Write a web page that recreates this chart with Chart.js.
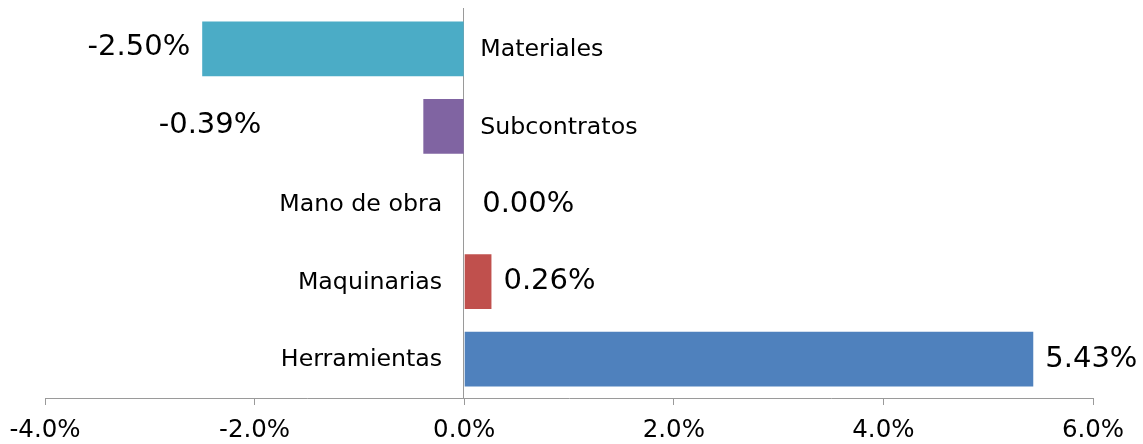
<!DOCTYPE html>
<html>
<head>
<meta charset="utf-8">
<script src="https://cdn.jsdelivr.net/npm/chart.js@4.4.1/dist/chart.umd.min.js"></script>
<style>
  html, body { margin: 0; padding: 0; background: #ffffff; }
  #wrap { width: 1143px; height: 444px; position: relative; }
</style>
</head>
<body>
<div id="wrap"><canvas id="c" width="1143" height="444"></canvas></div>
<script>
const categories = ["Materiales", "Subcontratos", "Mano de obra", "Maquinarias", "Herramientas"];
const values = [-2.50, -0.39, 0.00, 0.26, 5.43];
const valueLabels = ["-2.50%", "-0.39%", "0.00%", "0.26%", "5.43%"];
const barColors = ["#4BACC6", "#8064A2", "#9BBB59", "#C0504D", "#4F81BD"];
const xMin = -4, xMax = 6, xStep = 2;

const FONT = "'DejaVu Sans', Verdana, sans-serif";

const zeroLinePlugin = {
  id: 'zeroLine',
  beforeDatasetsDraw(chart, args, opts) {
    const {ctx, chartArea} = chart;
    const x = Math.round(chart.scales.x.getPixelForValue(0)) - 0.5;
    ctx.save();
    ctx.strokeStyle = opts.color;
    ctx.lineWidth = 1;
    ctx.beginPath();
    ctx.moveTo(x, chartArea.top - 2);
    ctx.lineTo(x, chartArea.bottom);
    ctx.stroke();
    ctx.restore();
  }
};

const labelPlugin = {
  id: 'barLabels',
  afterDatasetsDraw(chart, args, opts) {
    const ctx = chart.ctx;
    const meta = chart.getDatasetMeta(0);
    const xs = chart.scales.x;
    const zero = xs.getPixelForValue(0);
    ctx.save();
    ctx.fillStyle = '#000';
    ctx.textBaseline = 'middle';
    meta.data.forEach((bar, i) => {
      const v = values[i];
      const y = bar.y;
      const nudge = (opts.nudge && opts.nudge[i]) || 0;
      ctx.font = opts.valueFont;
      if (v < 0) {
        ctx.textAlign = 'right';
        ctx.fillText(valueLabels[i], bar.x - opts.gap + nudge, y - 1);
      } else {
        ctx.textAlign = 'left';
        ctx.fillText(valueLabels[i], Math.max(bar.x + opts.gap, zero + opts.zeroGap) + nudge, y);
      }
      ctx.font = opts.catFont;
      if (v < 0) {
        ctx.textAlign = 'left';
        ctx.fillText(categories[i], zero + opts.catGapRight, y + 1);
      } else {
        ctx.textAlign = 'right';
        ctx.fillText(categories[i], zero - opts.catGapLeft, y + 1);
      }
    });
    ctx.restore();
  }
};

new Chart(document.getElementById('c'), {
  type: 'bar',
  data: {
    labels: categories,
    datasets: [{
      data: values,
      backgroundColor: barColors,
      borderWidth: 0,
      barPercentage: 0.705,
      categoryPercentage: 1.0
    }]
  },
  options: {
    indexAxis: 'y',
    responsive: false,
    animation: false,
    devicePixelRatio: 1,
    layout: { padding: { left: 45, right: 50, top: 10, bottom: 0 } },
    plugins: {
      legend: { display: false },
      tooltip: { enabled: false },
      zeroLine: { color: '#9a9a9a' },
      barLabels: {
        valueFont: "29px " + FONT,
        catFont: "23.7px " + FONT,
        gap: 12,
        zeroGap: 18,
        catGapRight: 16,
        catGapLeft: 22,
        nudge: [0, -150, 0, 0, 0]
      }
    },
    scales: {
      x: {
        min: xMin,
        max: xMax,
        afterFit: (scale) => { scale.height = 46; scale.paddingLeft = 0; scale.paddingRight = 0; },
        ticks: {
          stepSize: xStep,
          color: '#000',
          font: { family: FONT, size: 24.5 },
          padding: 11,
          maxRotation: 0,
          callback: (v) => Number(v).toFixed(1) + '%'
        },
        grid: { drawOnChartArea: false, drawTicks: true, tickLength: 7, color: '#9a9a9a', lineWidth: 1 },
        border: { display: true, color: '#9a9a9a', width: 1 }
      },
      y: {
        display: false
      }
    }
  },
  plugins: [zeroLinePlugin, labelPlugin]
});
</script>
</body>
</html>
